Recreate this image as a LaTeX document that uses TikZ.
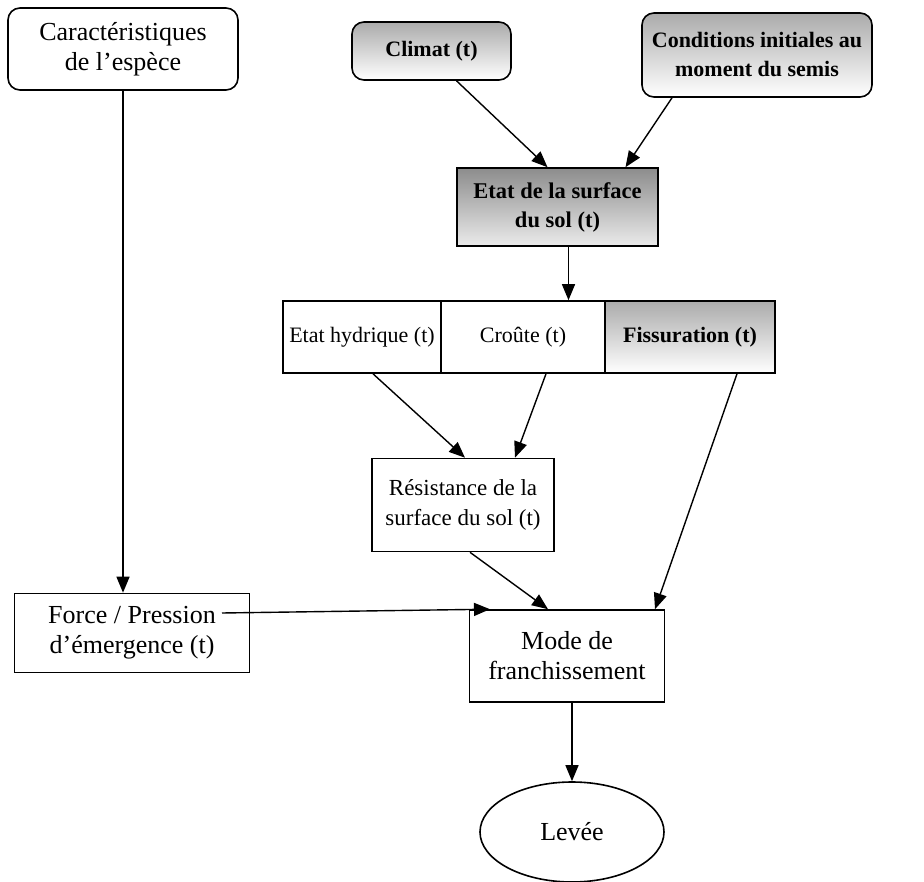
\documentclass[tikz,border=0pt]{standalone}
\usepackage{fontspec}
\setmainfont{Liberation Serif}
\usetikzlibrary{arrows.meta,shapes.geometric,calc}
\begin{document}
\begin{tikzpicture}[x=1pt,y=-1pt,
  box/.style={draw,line width=1.6pt,align=center,inner sep=0pt,font=\fontsize{23}{30}\selectfont},
  big/.style={font=\fontsize{26}{30}\selectfont},
  rowtxt/.style={font=\fontsize{22}{29}\selectfont},
  rbox/.style={box,rounded corners=12pt},
  shade1/.style={top color=black!33,bottom color=white,font=\fontsize{22}{29}\selectfont\bfseries},
  shade2/.style={top color=black!45,bottom color=black!8,font=\fontsize{22.5}{29}\selectfont\bfseries},
  arr/.style={line width=1.4pt,-{Triangle[length=16pt,width=13pt]}}]
\useasboundingbox (0,0) rectangle (924,882);
\begin{scope}
\clip (0,0) rectangle (924,882);
\node[rbox,big,minimum width=230pt,minimum height=82pt] (car) at (123,49) {Caractéristiques\\de l’espèce};
\node[rbox,shade1,minimum width=159pt,minimum height=58pt] (clim) at (431.5,51) {Climat (t)};
\node[rbox,shade1,minimum width=230pt,minimum height=84pt] (cond) at (757,55) {Conditions initiales au\\moment du semis};
\node[box,shade2,minimum width=201pt,minimum height=78pt] (surf) at (557.5,207) {Etat de la surface\\du sol (t)};
\node[box,rowtxt,minimum width=158pt,minimum height=72pt] (hyd) at (362,337) {\raisebox{4pt}{Etat hydrique (t)}};
\node[box,rowtxt,minimum width=164pt,minimum height=72pt] (crou) at (523,337) {\raisebox{4pt}{Croûte (t)}};
\node[box,shade1,minimum width=170pt,minimum height=72pt] (fiss) at (690,337) {\raisebox{4pt}{Fissuration (t)}};
\node[box,minimum width=182pt,minimum height=93pt] (res) at (463,505) {Résistance de la\\surface du sol (t)};
\node[box,big,minimum width=235pt,minimum height=79pt] (force) at (132,633) {Force / Pression\\d'émergence (t)};
\node[box,big,minimum width=195pt,minimum height=92pt] (mode) at (567,656) {Mode de\\franchissement};
\node[draw,line width=1.6pt,ellipse,minimum width=184pt,minimum height=100pt,inner sep=0pt,big] (lev) at (572,832) {Levée};
\draw[arr] (car.south) -- (car.south |- force.north);
\draw[arr] ([xshift=25pt]clim.south) -- ([xshift=-10pt]surf.north);
\draw[arr] ([xshift=-85pt]cond.south) -- ([xshift=68pt]surf.north);
\draw[arr] ([xshift=11pt]surf.south) -- ([xshift=11pt]surf.south |- crou.north);
\draw[arr] ([xshift=11pt]hyd.south) -- ([xshift=2pt]res.north);
\draw[arr] ([xshift=23pt]crou.south) -- ([xshift=52pt]res.north);
\draw[arr] ([xshift=47pt]fiss.south) -- ([xshift=88pt]mode.north);
\draw[arr] ([xshift=7pt]res.south) -- ([xshift=-19pt]mode.north);
\draw[arr] ([xshift=90pt,yshift=20pt]force.center) -- ([xshift=-77pt]mode.north);
\draw[arr] ([xshift=5pt]mode.south) -- ([xshift=5pt]mode.south |- lev.north);
\end{scope}
\end{tikzpicture}
\end{document}
